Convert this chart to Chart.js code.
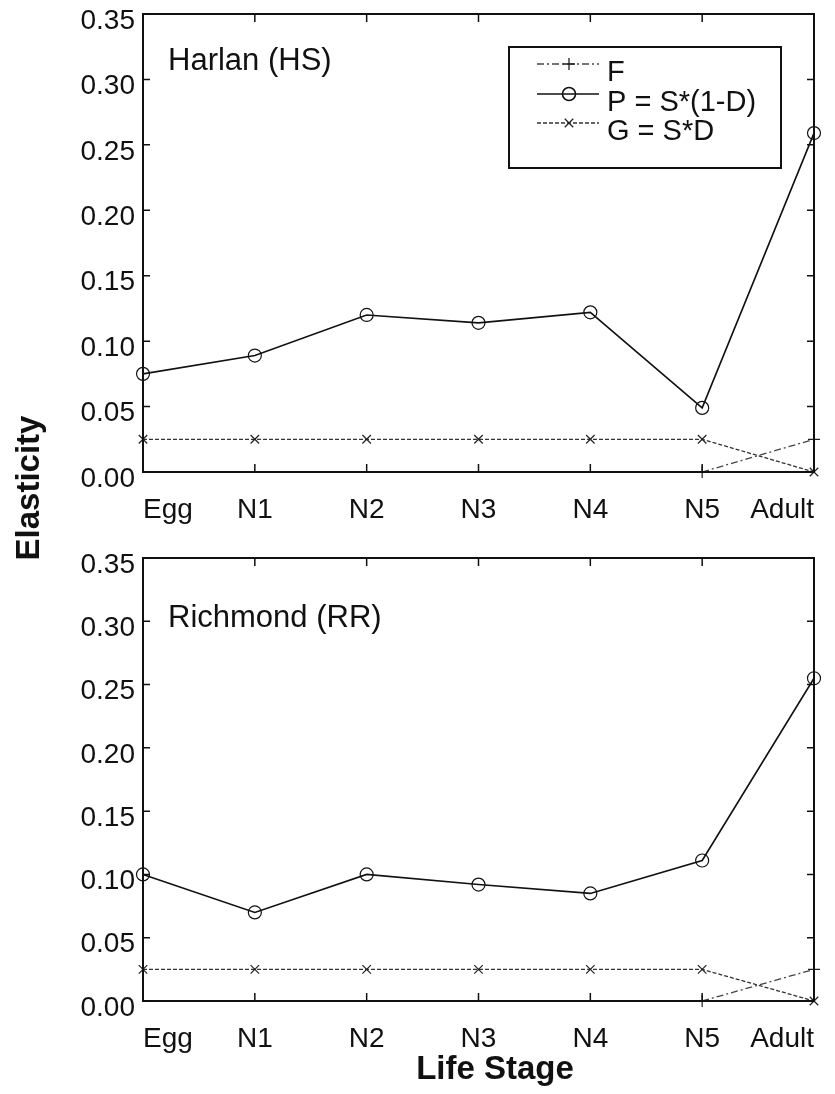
<!DOCTYPE html>
<html><head><meta charset="utf-8">
<script src="https://cdn.jsdelivr.net/npm/chart.js@4.4.0/dist/chart.umd.min.js"></script>
<style>
html,body{margin:0;padding:0;background:#fff;width:835px;height:1094px;overflow:hidden;position:relative;}
canvas{position:absolute;left:0;}
#c1{top:-20px}
#c2{top:530px}
.ax{position:absolute;font:bold 33px "Liberation Sans",Arial,sans-serif;color:#111;white-space:nowrap;text-align:center;line-height:40px;height:40px;width:300px;}
#ylab{left:-122.5px;top:468px;transform:rotate(-90deg);}
#xlab{left:345px;top:1048px;}
</style>
</head><body>
<canvas id="c1" width="835" height="560"></canvas>
<canvas id="c2" width="835" height="564"></canvas>
<div class="ax" id="ylab">Elasticity</div>
<div class="ax" id="xlab">Life Stage</div>
<script>
// ---- data ----
const stages = ['Egg', 'N1', 'N2', 'N3', 'N4', 'N5', 'Adult'];
const yTickValues = [0, 0.05, 0.10, 0.15, 0.20, 0.25, 0.30, 0.35];
const yTickLabels = ['0.00', '0.05', '0.10', '0.15', '0.20', '0.25', '0.30', '0.35'];
const seriesNames = ['F', 'P = S*(1-D)', 'G = S*D'];

const harlanTitle = 'Harlan (HS)';
const harlanF = [null, null, null, null, null, 0.000, 0.025];
const harlanP = [0.075, 0.089, 0.120, 0.114, 0.122, 0.049, 0.259];
const harlanG = [0.025, 0.025, 0.025, 0.025, 0.025, 0.025, 0.000];

const richmondTitle = 'Richmond (RR)';
const richmondF = [null, null, null, null, null, 0.000, 0.025];
const richmondP = [0.100, 0.070, 0.100, 0.092, 0.085, 0.111, 0.255];
const richmondG = [0.025, 0.025, 0.025, 0.025, 0.025, 0.025, 0.000];

// ---- styling ----
const FONT = '"Liberation Sans", Arial, sans-serif';
const INK = '#111';

const boxPlugin = {
  id: 'boxTicks',
  afterDraw(chart) {
    const ctx = chart.ctx, a = chart.chartArea;
    const xs = chart.scales.x, ys = chart.scales.y;
    ctx.save();
    ctx.strokeStyle = INK;
    ctx.lineWidth = 2;
    ctx.strokeRect(a.left, a.top, a.right - a.left, a.bottom - a.top);
    ctx.lineWidth = 1.5;
    ctx.beginPath();
    yTickValues.forEach(v => {
      const y = ys.getPixelForValue(v);
      ctx.moveTo(a.left, y); ctx.lineTo(a.left + 7, y);
      ctx.moveTo(a.right, y); ctx.lineTo(a.right - 7, y);
    });
    stages.forEach((s, i) => {
      const x = xs.getPixelForValue(i);
      ctx.moveTo(x, a.bottom); ctx.lineTo(x, a.bottom - 8);
      ctx.moveTo(x, a.top); ctx.lineTo(x, a.top + 8);
    });
    ctx.stroke();
    // panel title
    const o = chart.options.plugins.boxTicks;
    ctx.fillStyle = INK;
    ctx.font = '31px ' + FONT;
    ctx.textBaseline = 'middle';
    ctx.textAlign = 'left';
    ctx.fillText(o.title, a.left + 25, a.top + o.titleOffset);
    // legend
    if (o.legend) {
      const L = a.right - 305, T = a.top + 33, W = 272, H = 121;
      ctx.lineWidth = 2;
      ctx.strokeStyle = INK;
      ctx.strokeRect(L, T, W, H);
      const rows = [17, 47, 76];
      chart.data.datasets.forEach((ds, i) => {
        const y = T + rows[i];
        ctx.save();
        ctx.strokeStyle = ds.borderColor;
        ctx.lineWidth = ds.borderWidth;
        ctx.setLineDash(ds.borderDash || []);
        ctx.beginPath();
        ctx.moveTo(L + 28, y); ctx.lineTo(L + 90, y);
        ctx.stroke();
        ctx.setLineDash([]);
        ctx.strokeStyle = ds.pointBorderColor;
        ctx.fillStyle = 'rgba(0,0,0,0)';
        Chart.helpers.drawPoint(ctx, {pointStyle: ds.pointStyle, radius: ds.pointRadius, rotation: 0, borderWidth: 1.2}, L + 60, y);
        ctx.restore();
        ctx.fillStyle = INK;
        ctx.font = '29px ' + FONT;
        ctx.textBaseline = 'middle';
        ctx.fillText(ds.label, L + 98, y + 9);
      });
    }
    ctx.restore();
  }
};

function makePanel(id, F, P, G, opts) {
  const datasets = [
    {label: seriesNames[0], data: F, borderColor: '#444', borderWidth: 1.3, borderDash: [7, 3, 2, 3],
     pointStyle: 'cross', pointRadius: 6, pointBorderColor: '#222', pointBackgroundColor: 'rgba(0,0,0,0)', pointBorderWidth: 1.2},
    {label: seriesNames[1], data: P, borderColor: '#111', borderWidth: 1.6,
     pointStyle: 'circle', pointRadius: 6.5, pointBorderColor: '#111', pointBackgroundColor: 'rgba(0,0,0,0)', pointBorderWidth: 1.2},
    {label: seriesNames[2], data: G, borderColor: '#333', borderWidth: 1.3, borderDash: [4, 2],
     pointStyle: 'crossRot', pointRadius: 6, pointBorderColor: '#222', pointBackgroundColor: 'rgba(0,0,0,0)', pointBorderWidth: 1.2}
  ];
  datasets.forEach(d => { d.clip = false; d.tension = 0; d.fill = false; });
  return new Chart(document.getElementById(id), {
    type: 'line',
    data: {labels: stages, datasets},
    options: {
      responsive: false, animation: false, devicePixelRatio: 1,
      layout: {padding: {top: opts.padTop, right: 18, left: 0, bottom: 0}},
      plugins: {legend: {display: false}, tooltip: {enabled: false},
        boxTicks: {title: opts.title, titleOffset: opts.titleOffset, legend: opts.legend}},
      scales: {
        x: {
          type: 'category', offset: false,
          grid: {display: false, drawTicks: false}, border: {display: false},
          ticks: {align: 'inner', autoSkip: false, maxRotation: 0, padding: 21,
                  color: INK, font: {family: FONT, size: 28}},
          afterFit: s => { s.height = opts.xHeight; }
        },
        y: {
          min: 0, max: 0.35,
          grid: {display: false, drawTicks: false}, border: {display: false},
          afterBuildTicks: s => { s.ticks = yTickValues.map(v => ({value: v})); },
          ticks: {padding: 8, labelOffset: 7, color: INK, font: {family: FONT, size: 28},
                  callback: (v, i) => yTickLabels[i]},
          afterFit: s => { s.width = 143; }
        }
      }
    },
    plugins: [boxPlugin]
  });
}

makePanel('c1', harlanF, harlanP, harlanG, {padTop: 34, xHeight: 68, title: harlanTitle, titleOffset: 47, legend: true});
makePanel('c2', richmondF, richmondP, richmondG, {padTop: 28, xHeight: 93, title: richmondTitle, titleOffset: 60, legend: false});
</script>
</body></html>
